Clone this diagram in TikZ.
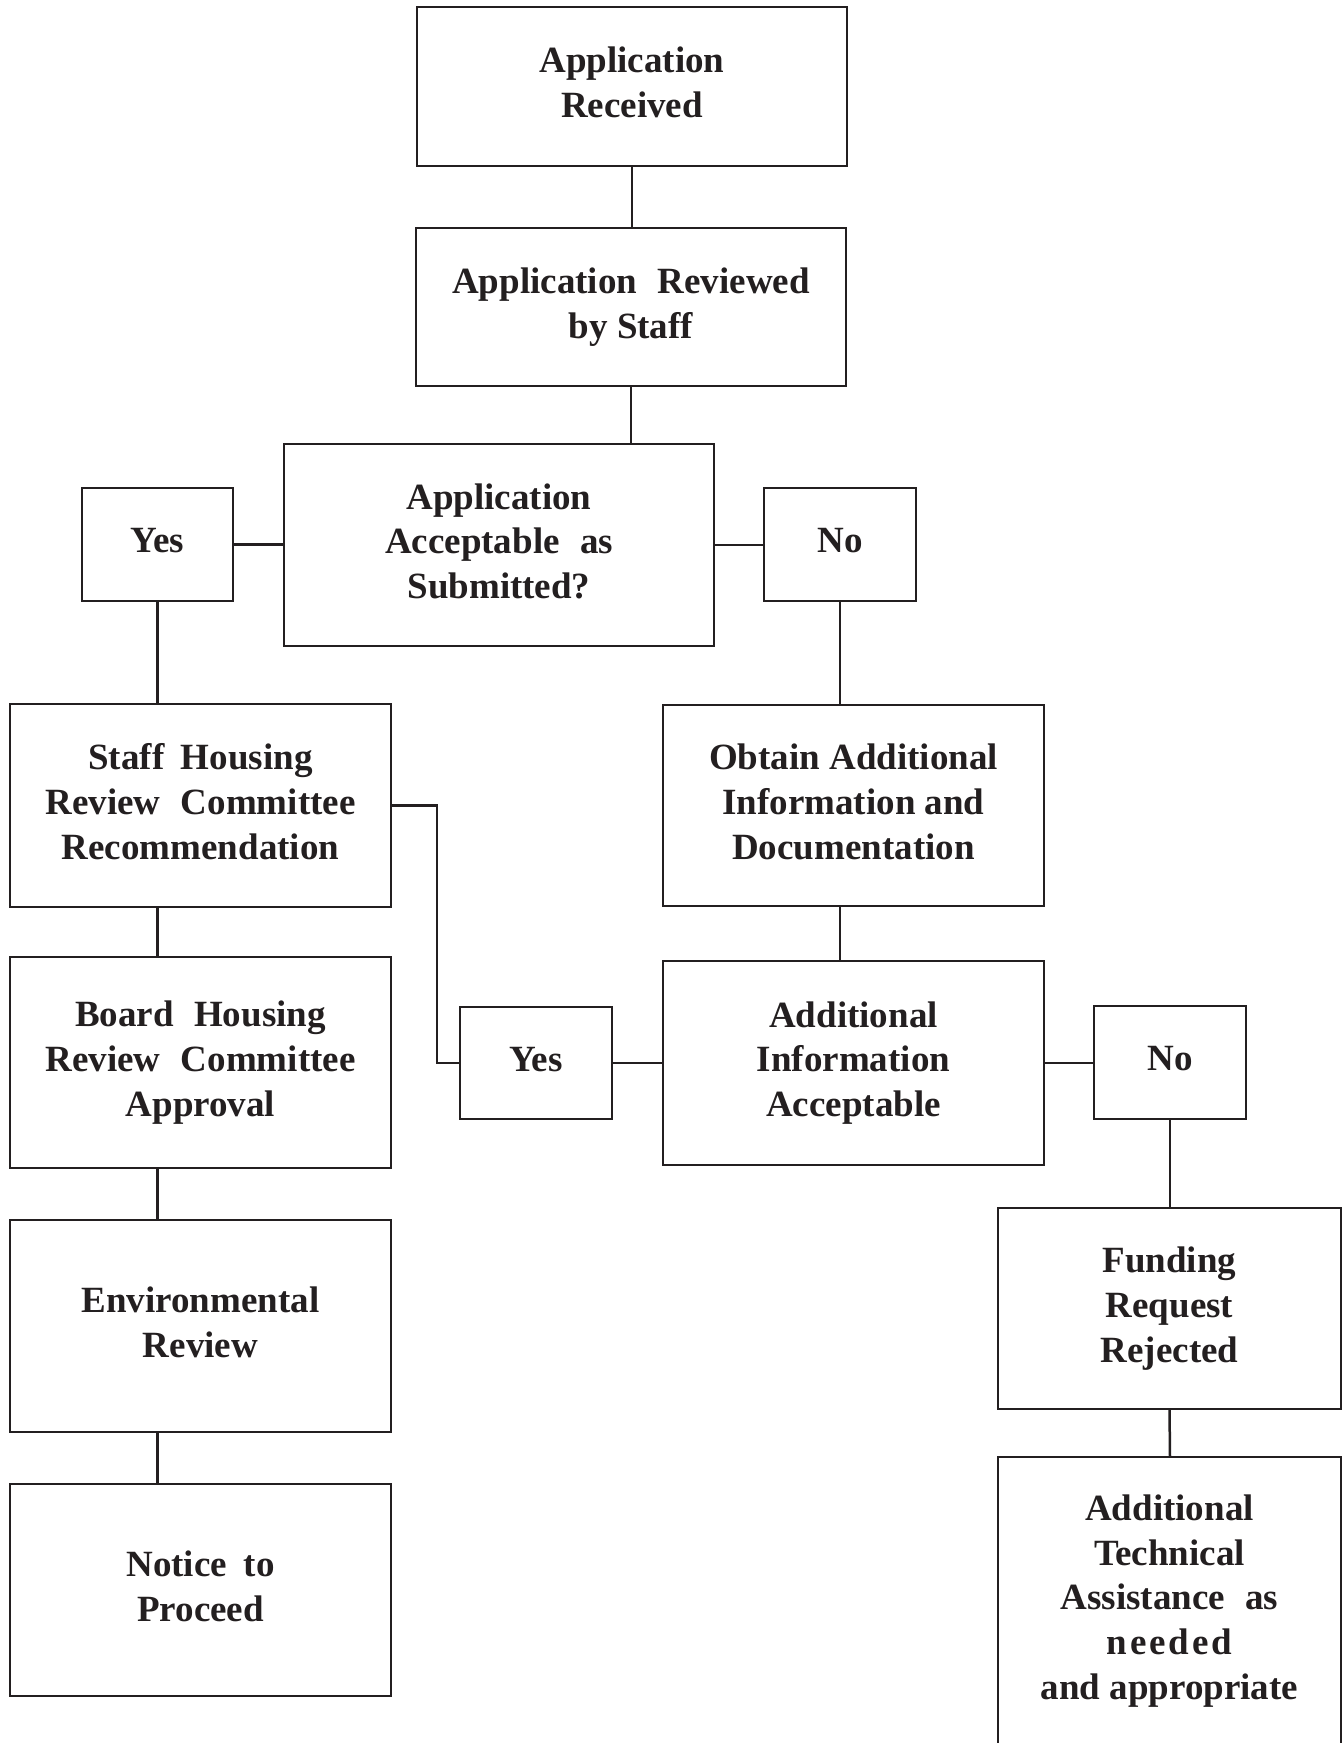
\documentclass[tikz,border=0pt]{standalone}
\usepackage{fontspec}
\setmainfont{Liberation Serif}
\definecolor{ink}{HTML}{231F20}
\newcommand\wsp{\hspace{0.3em}}
\tikzset{
  box/.style={draw=ink, line width=2.5pt, inner sep=0pt, outer sep=0pt, align=center, text=ink,
    text depth=8pt, font=\bfseries\fontsize{37}{44.8}\selectfont},
  plain/.style={inner sep=0pt, outer sep=0pt, align=center, text=ink,
    font=\bfseries\fontsize{37}{44.8}\selectfont},
  link/.style={draw=ink, line width=2.5pt},
}
\begin{document}
\begin{tikzpicture}[x=1pt,y=-1pt]
\useasboundingbox[fill=white] (0,0) rectangle (1343,1743);

\node[box, minimum width=430pt, minimum height=159pt] (recv) at (632,86.5) {Application\\Received};
\node[box, minimum width=430pt, minimum height=158pt] (reviewed) at (631,307) {Application\wsp{} Reviewed\\by Staff};
\node[box, minimum width=430pt, minimum height=202pt] (accept) at (499,545) {Application\\Acceptable\wsp{} as\\Submitted?};
\node[box, minimum width=151pt, minimum height=113pt] (yes1) at (157.5,544.5) {Yes};
\node[box, minimum width=152pt, minimum height=113pt] (no1) at (840,544.5) {No};
\node[box, minimum width=381pt, minimum height=203pt] (staff) at (200.5,805.5) {Staff\hspace{0.2em} Housing\\Review\wsp{} Committee\\Recommendation};
\node[box, minimum width=381pt, minimum height=201pt] (obtain) at (853.5,805.5) {Obtain Additional\\Information and\\Documentation};
\node[box, minimum width=381pt, minimum height=211pt] (board) at (200.5,1062.5) {Board\wsp{} Housing\\Review\wsp{} Committee\\Approval};
\node[box, minimum width=152pt, minimum height=112pt] (yes2) at (536,1063) {Yes};
\node[box, minimum width=381pt, minimum height=204pt] (addinfo) at (853.5,1063) {Additional\\Information\\Acceptable};
\node[box, minimum width=152pt, minimum height=113pt] (no2) at (1170,1062.5) {No};
\node[box, minimum width=381pt, minimum height=212pt] (env) at (200.5,1326) {Environmental\\Review};
\node[box, minimum width=343pt, minimum height=201pt] (funding) at (1169.5,1308.5) {Funding\\Request\\Rejected};
\node[box, minimum width=381pt, minimum height=212pt] (notice) at (200.5,1590) {Notice\hspace{0.2em} to\\Proceed};
\node[plain] (addtech) at (1169.5,1601) {Additional\\Technical\\Assistance\wsp{} as\\{\addfontfeature{LetterSpace=8}needed}\\and appropriate};
\coordinate (attop) at (1170,1457);
\draw[link] (998,1743) |- (1341,1457) -- (1341,1743);

\draw[link] (recv.south) -- (recv.south |- reviewed.north);
\draw[link] (reviewed.south) -- (reviewed.south |- accept.north);
\draw[link] (yes1.east) -- (yes1.east -| accept.west);
\draw[link] (accept.east) -- (accept.east -| no1.west);
\draw[link] (yes1.south) -- (yes1.south |- staff.north);
\draw[link] (staff.south -| yes1) -- (board.north -| yes1);
\draw[link] (board.south -| yes1) -- (env.north -| yes1);
\draw[link] (env.south -| yes1) -- (notice.north -| yes1);
\draw[link] (no1.south) -- (no1.south |- obtain.north);
\draw[link] (obtain.south -| no1) -- (addinfo.north -| no1);
\draw[link] (staff.east) -- ++(46,0) |- (yes2.west);
\draw[link] (yes2.east) -- (yes2.east -| addinfo.west);
\draw[link] (addinfo.east) -- (addinfo.east -| no2.west);
\draw[link] (no2.south) -- (no2.south |- funding.north);
\draw[link] (funding.south) -- (attop);
\end{tikzpicture}
\end{document}
